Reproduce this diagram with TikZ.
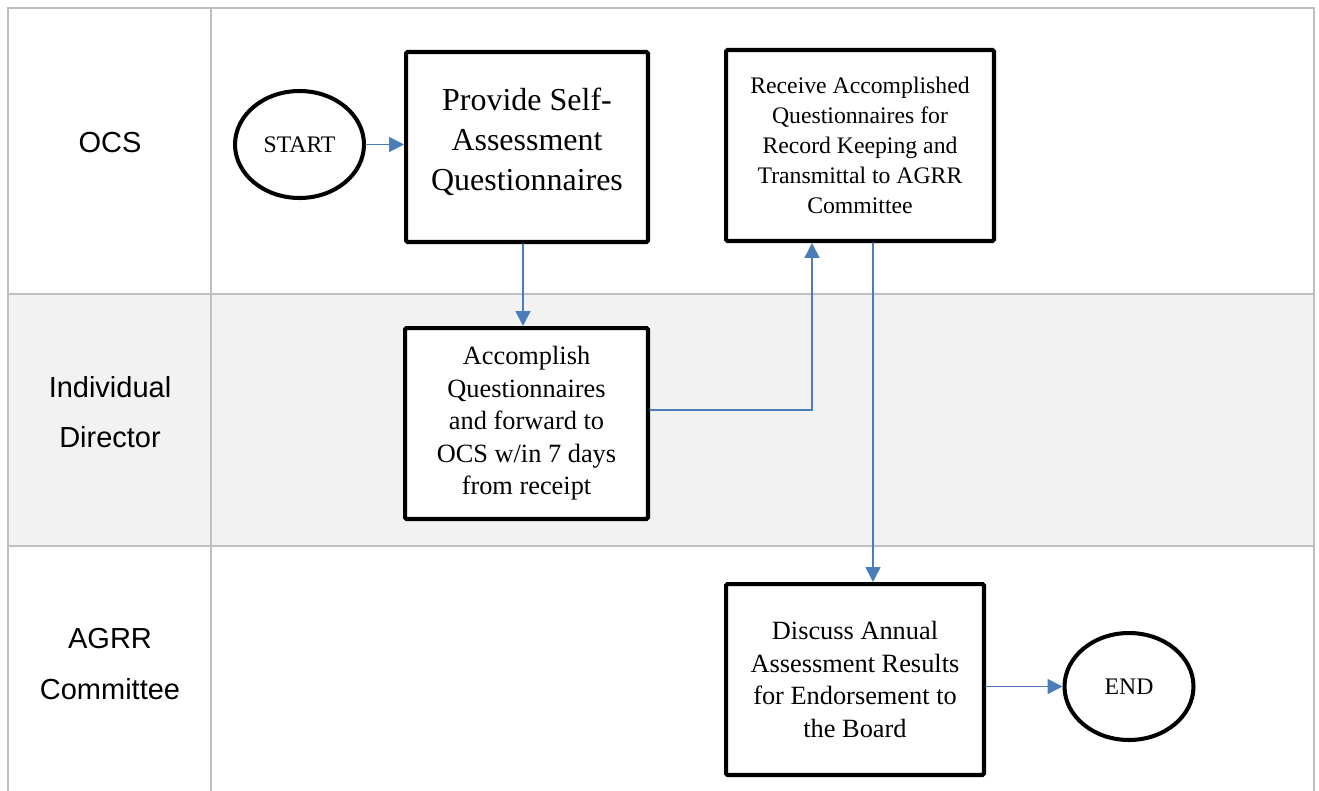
\documentclass[tikz,border=0pt]{standalone}
\usepackage{fontspec}
\setmainfont{Liberation Serif}
\newfontfamily\lanefont{Liberation Sans}
\usetikzlibrary{arrows.meta}
\usetikzlibrary{shapes,positioning}
\definecolor{flowblue}{HTML}{4A7EBB}
\definecolor{lanegray}{HTML}{BFBFBF}
\definecolor{laneshade}{HTML}{F2F2F2}
\tikzset{
  stepbox/.style={draw, line width=2.3pt, fill=white, rounded corners=0.8pt,
    align=center, inner sep=0pt, font=\fontsize{15pt}{18.5pt}\selectfont},
  terminal/.style={ellipse, draw, line width=2.3pt, fill=white,
    minimum width=2.58cm, minimum height=2.14cm, inner sep=0pt,
    font=\fontsize{13.5pt}{16pt}\selectfont},
  flow/.style={draw=flowblue, line width=0.9pt,
    -{Triangle[length=8.5pt,width=8.5pt]}},
  lane/.style={align=center, font=\lanefont\fontsize{16.5pt}{28.5pt}\selectfont},
  laneline/.style={lanegray, line width=1.1pt}
}

\begin{document}
\begin{tikzpicture}[x=0.02cm, y=-0.02cm, line cap=round]

    \useasboundingbox (0,0) rectangle (1319,791);

    % swimlanes
    \fill [laneshade] (8,294) rectangle (1314,546);
    \draw [laneline] (8,791) -- (8,8) -- (1314,8) -- (1314,791);
    \draw [laneline] (8,294) -- (1314,294);
    \draw [laneline] (8,546) -- (1314,546);
    \draw [laneline] (211,8) -- (211,791);

    \node [lane] (ocs) at (110,143) {OCS};
    \node [lane] (director) at (110,412) {Individual\\Director};
    \node [lane] (agrr) at (110,664) {AGRR\\Committee};

    % steps
    \node [terminal] (start) at (299.5,144.5) {START};
    \node [stepbox, minimum width=4.84cm, minimum height=3.8cm,
      font=\fontsize{18.2pt}{22.8pt}\selectfont] (provide) at (527,147)
      {Provide Self-\\Assessment\\Questionnaires\\[-14pt]\mbox{}};
    \node [stepbox, minimum width=5.36cm, minimum height=3.82cm,
      font=\fontsize{13.5pt}{17pt}\selectfont] (receive) at (860,145.5)
      {Receive Accomplished\\Questionnaires for\\Record Keeping and\\Transmittal to AGRR\\Committee};
    \node [stepbox, minimum width=4.86cm, minimum height=3.82cm] (accomplish) at (526.5,423.5)
      {Accomplish\\Questionnaires\\and forward to\\OCS w/in 7 days\\from receipt};
    \node [stepbox, minimum width=5.16cm, minimum height=3.82cm] (discuss) at (855,679.5)
      {Discuss Annual\\Assessment Results\\for Endorsement to\\the Board};
    \node [terminal] (finish) at (1129,686.5) {END};

    % connectors
    \draw [flow] (start.east) -- (start.east -| provide.west);
    \draw [flow] ([xshift=-0.08cm]provide.south) -- ([xshift=-0.08cm]provide.south |- accomplish.north);
    \draw [flow] ([yshift=0.27cm]accomplish.east) -| ([xshift=-0.96cm]receive.south);
    \draw [flow] ([xshift=0.26cm]receive.south) coordinate (drop) -- (drop |- discuss.north);
    \draw [flow] (discuss.east |- finish) -- (finish.west);

\end{tikzpicture}
\end{document}
